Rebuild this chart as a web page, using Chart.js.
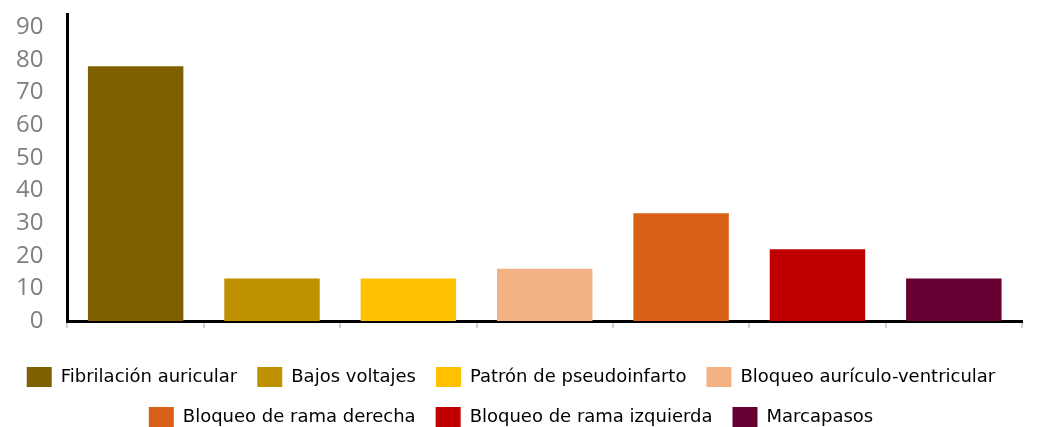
<!DOCTYPE html>
<html>
<head>
<meta charset="utf-8">
<script src="https://cdn.jsdelivr.net/npm/chart.js@4/dist/chart.umd.min.js"></script>
<style>
  html, body { margin: 0; padding: 0; background: #fff; }
  #wrap { width: 1042px; height: 427px; }
</style>
</head>
<body>
<div id="wrap"><canvas id="chart"></canvas></div>
<script>
const categories = [
    'Fibrilación auricular',
    'Bajos voltajes',
    'Patrón de pseudoinfarto',
    'Bloqueo aurículo-ventricular',
    'Bloqueo de rama derecha',
    'Bloqueo de rama izquierda',
    'Marcapasos'
];
const values = [78, 13, 13, 16, 33, 22, 13];
const yTicks = [0, 10, 20, 30, 40, 50, 60, 70, 80, 90];
const barColors = ['#7f6000', '#bf9000', '#ffc000', '#f4b183', '#d86117', '#c00000', '#660033'];

const legendLabels = (chart) => {
    return categories.map((label, i) => ({
        text: label,
        fillStyle: barColors[i],
        strokeStyle: barColors[i],
        lineWidth: 0,
        hidden: false,
        index: i
    }));
}

const conf = {
    type: 'bar',
    data: {
        labels: categories,
        datasets: [{
            data: values,
            backgroundColor: barColors,
            borderWidth: 0,
            barPercentage: 0.7,
            categoryPercentage: 1
        }]
    },
    options: {
        responsive: true,
        maintainAspectRatio: false,
        animation: false,
        layout: {
            padding: { top: 14, right: 20, left: 0, bottom: -10 }
        },
        scales: {
            x: {
                grid: {
                    display: true,
                    drawOnChartArea: false,
                    offset: true,
                    tickLength: 7,
                    color: '#d0d0d0',
                    lineWidth: 2
                },
                border: { display: true, color: '#000', width: 3 },
                ticks: { display: false },
                afterFit: (axis) => { axis.height += 19; }
            },
            y: {
                min: 0,
                max: 94,
                afterBuildTicks: (axis) => {
                    axis.ticks = yTicks.map(v => ({ value: v }));
                },
                // top label sits below the axis end, no extra room needed
                afterFit: (axis) => { axis.paddingTop = 0; },
                grid: { display: false },
                border: { display: true, color: '#000', width: 3 },
                ticks: {
                    autoSkip: false,
                    color: '#7f7f7f',
                    padding: 16,
                    font: { family: 'Open Sans', size: 24 }
                }
            }
        },
        plugins: {
            tooltip: { enabled: false },
            legend: {
                display: true,
                position: 'bottom',
                labels: {
                    generateLabels: legendLabels,
                    boxWidth: 25,
                    boxHeight: 20,
                    padding: 20,
                    color: '#000',
                    font: { family: 'DejaVu Sans', size: 18 }
                }
            }
        }
    }
};

new Chart(document.getElementById('chart'), conf);
</script>
</body>
</html>
